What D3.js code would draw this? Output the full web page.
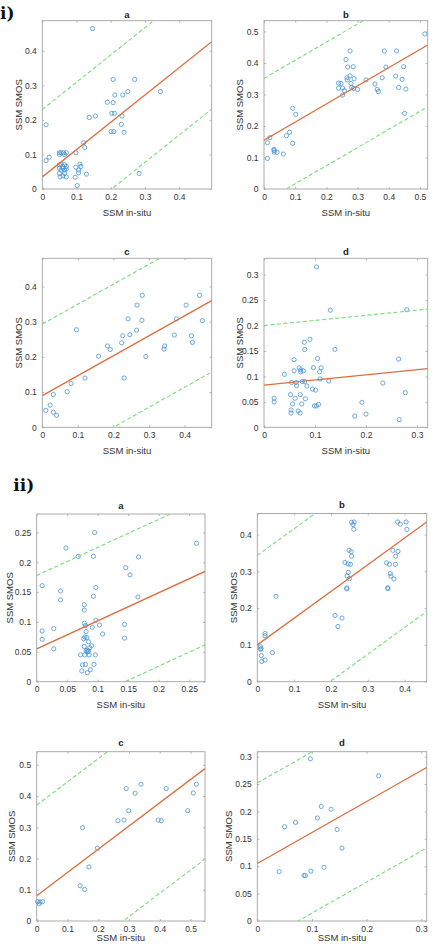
<!DOCTYPE html>
<html>
<head>
<meta charset="utf-8">
<script src="https://cdn.jsdelivr.net/npm/d3@7"></script>
<style>
 body { margin: 0; background: #fff; }
 svg { display: block; }
</style>
</head>
<body>
<div id="chart"></div>
<script>
// ---- data: [SSM in-situ, SSM SMOS] ----
const iA = [[0.147,0.464],[0.011,0.186],[0.011,0.082],[0.02,0.092],[0.05,0.105],[0.055,0.105],[0.062,0.105],[0.07,0.105],[0.065,0.1],[0.05,0.1],[0.05,0.07],[0.055,0.072],[0.06,0.065],[0.065,0.07],[0.07,0.065],[0.05,0.06],[0.055,0.055],[0.065,0.055],[0.07,0.058],[0.05,0.045],[0.065,0.045],[0.052,0.035],[0.06,0.038],[0.07,0.035],[0.06,0.06],[0.098,0.105],[0.098,0.063],[0.11,0.072],[0.113,0.065],[0.106,0.047],[0.106,0.055],[0.096,0.034],[0.102,0.01],[0.129,0.043],[0.121,0.134],[0.124,0.12],[0.137,0.207],[0.155,0.211],[0.19,0.251],[0.207,0.317],[0.212,0.272],[0.207,0.25],[0.203,0.219],[0.211,0.219],[0.201,0.166],[0.209,0.166],[0.235,0.272],[0.25,0.282],[0.27,0.317],[0.233,0.211],[0.231,0.187],[0.239,0.164],[0.283,0.045],[0.345,0.282]];
const iB = [[0.011,0.097],[0.011,0.147],[0.019,0.163],[0.032,0.126],[0.032,0.122],[0.033,0.117],[0.042,0.116],[0.062,0.111],[0.072,0.169],[0.082,0.18],[0.092,0.256],[0.092,0.145],[0.102,0.237],[0.239,0.336],[0.239,0.32],[0.247,0.335],[0.252,0.32],[0.252,0.298],[0.258,0.312],[0.263,0.411],[0.268,0.387],[0.267,0.346],[0.266,0.353],[0.276,0.438],[0.276,0.359],[0.279,0.335],[0.281,0.322],[0.286,0.388],[0.289,0.35],[0.287,0.319],[0.3,0.316],[0.327,0.346],[0.356,0.333],[0.363,0.316],[0.367,0.309],[0.379,0.353],[0.386,0.438],[0.391,0.387],[0.425,0.438],[0.422,0.358],[0.432,0.322],[0.443,0.348],[0.448,0.388],[0.455,0.317],[0.451,0.24],[0.516,0.492]];
const iC = [[0.01,0.048],[0.022,0.063],[0.031,0.093],[0.031,0.043],[0.04,0.034],[0.07,0.101],[0.081,0.124],[0.096,0.277],[0.12,0.14],[0.158,0.202],[0.183,0.231],[0.191,0.221],[0.223,0.24],[0.226,0.26],[0.23,0.14],[0.241,0.308],[0.246,0.263],[0.265,0.276],[0.266,0.347],[0.28,0.304],[0.281,0.375],[0.291,0.201],[0.342,0.222],[0.344,0.231],[0.371,0.262],[0.377,0.308],[0.404,0.347],[0.419,0.26],[0.422,0.241],[0.442,0.375],[0.45,0.303]];
const iD = [[0.02,0.057],[0.02,0.05],[0.04,0.104],[0.052,0.064],[0.053,0.034],[0.053,0.028],[0.054,0.088],[0.059,0.133],[0.059,0.111],[0.056,0.046],[0.061,0.057],[0.063,0.088],[0.064,0.082],[0.067,0.032],[0.069,0.117],[0.071,0.064],[0.071,0.028],[0.072,0.113],[0.072,0.109],[0.074,0.046],[0.075,0.09],[0.077,0.111],[0.079,0.167],[0.08,0.153],[0.08,0.09],[0.081,0.056],[0.084,0.081],[0.09,0.173],[0.095,0.075],[0.097,0.117],[0.099,0.042],[0.101,0.073],[0.103,0.315],[0.105,0.135],[0.103,0.042],[0.107,0.045],[0.109,0.109],[0.112,0.117],[0.11,0.095],[0.127,0.091],[0.13,0.23],[0.139,0.153],[0.178,0.022],[0.192,0.049],[0.2,0.026],[0.233,0.087],[0.264,0.134],[0.265,0.015],[0.277,0.068],[0.28,0.231]];
const iiA = [[0.009,0.161],[0.009,0.085],[0.009,0.071],[0.028,0.089],[0.028,0.055],[0.039,0.152],[0.039,0.137],[0.048,0.224],[0.068,0.21],[0.072,0.045],[0.074,0.018],[0.075,0.028],[0.077,0.072],[0.078,0.129],[0.078,0.12],[0.078,0.098],[0.078,0.059],[0.079,0.045],[0.079,0.075],[0.08,0.029],[0.08,0.094],[0.081,0.052],[0.081,0.084],[0.082,0.074],[0.083,0.053],[0.083,0.05],[0.083,0.015],[0.085,0.067],[0.085,0.051],[0.086,0.045],[0.087,0.057],[0.088,0.02],[0.09,0.06],[0.091,0.091],[0.093,0.143],[0.093,0.21],[0.094,0.029],[0.095,0.25],[0.096,0.045],[0.097,0.103],[0.097,0.158],[0.103,0.095],[0.108,0.08],[0.144,0.073],[0.144,0.096],[0.146,0.191],[0.153,0.179],[0.166,0.142],[0.167,0.209],[0.262,0.232]];
const iiB = [[0.009,0.095],[0.01,0.09],[0.009,0.088],[0.011,0.071],[0.012,0.055],[0.021,0.059],[0.021,0.131],[0.021,0.125],[0.041,0.079],[0.051,0.232],[0.211,0.18],[0.219,0.15],[0.23,0.173],[0.238,0.324],[0.243,0.255],[0.243,0.252],[0.244,0.287],[0.247,0.32],[0.247,0.297],[0.249,0.357],[0.25,0.28],[0.253,0.319],[0.255,0.353],[0.256,0.341],[0.256,0.433],[0.26,0.427],[0.262,0.414],[0.263,0.434],[0.351,0.323],[0.354,0.255],[0.355,0.253],[0.359,0.319],[0.361,0.294],[0.363,0.287],[0.368,0.357],[0.371,0.279],[0.375,0.319],[0.376,0.341],[0.382,0.354],[0.381,0.434],[0.388,0.428],[0.404,0.434],[0.406,0.414]];
const iiC = [[0.003,0.062],[0.008,0.055],[0.011,0.061],[0.019,0.062],[0.141,0.113],[0.149,0.299],[0.156,0.101],[0.17,0.173],[0.197,0.233],[0.264,0.321],[0.284,0.323],[0.291,0.424],[0.299,0.353],[0.32,0.409],[0.339,0.438],[0.395,0.323],[0.405,0.321],[0.421,0.424],[0.491,0.353],[0.509,0.41],[0.519,0.438]];
const iiD = [[0.04,0.09],[0.05,0.172],[0.07,0.18],[0.0855,0.083],[0.088,0.083],[0.097,0.296],[0.098,0.091],[0.11,0.188],[0.117,0.209],[0.122,0.098],[0.135,0.204],[0.146,0.167],[0.155,0.133],[0.222,0.265]];

const panelPoints = [iA, iB, iC, iD, iiA, iiB, iiC, iiD];
const panelTitles = ["a", "b", "c", "d", "a", "b", "c", "d"];

// regression line and +/- band, per panel
const fitIntercept = [0.035, 0.155, 0.09, 0.083, 0.055, 0.1, 0.081, 0.105];
const fitSlope = [0.79, 0.575, 0.567, 0.1, 0.47, 0.726, 0.744, 0.565];
const bandWidth = [0.195, 0.196, 0.203, 0.117, 0.123, 0.243, 0.29, 0.147];

// axis limits and ticks
const xMax = [0.495, 0.525, 0.476, 0.321, 0.276, 0.46, 0.547, 0.31];
const yMax = [0.487, 0.534, 0.48, 0.332, 0.281, 0.457, 0.542, 0.309];
const xTicks = [
 [0, 0.1, 0.2, 0.3, 0.4],
 [0, 0.1, 0.2, 0.3, 0.4, 0.5],
 [0, 0.1, 0.2, 0.3, 0.4],
 [0, 0.1, 0.2, 0.3],
 [0, 0.05, 0.1, 0.15, 0.2, 0.25],
 [0, 0.1, 0.2, 0.3, 0.4],
 [0, 0.1, 0.2, 0.3, 0.4, 0.5],
 [0, 0.1, 0.2, 0.3]
];
const yTicks = [
 [0, 0.1, 0.2, 0.3, 0.4],
 [0, 0.1, 0.2, 0.3, 0.4, 0.5],
 [0, 0.1, 0.2, 0.3, 0.4],
 [0, 0.05, 0.1, 0.15, 0.2, 0.25, 0.3],
 [0, 0.05, 0.1, 0.15, 0.2, 0.25],
 [0, 0.1, 0.2, 0.3, 0.4],
 [0, 0.1, 0.2, 0.3, 0.4, 0.5],
 [0, 0.05, 0.1, 0.15, 0.2, 0.25, 0.3]
];

// ---- layout ----
const boxes = [
 [42.3, 20.7, 211.7, 189],
 [264, 20.7, 427.7, 189],
 [42.3, 258.3, 211.7, 427.3],
 [264, 258.3, 427.7, 427.3],
 [36.7, 514, 205, 681.7],
 [257.3, 513.5, 426.7, 681.7],
 [36.7, 751.7, 205, 921],
 [257.3, 751.7, 426.7, 921]
];
const yLabelGap = [24, 24.7, 24, 24.3, 27.4, 23.3, 25, 29];
const titleGap = [3, 3, 3, 3, 5.5, 5.5, 5.5, 5.5];

const font = "'Liberation Sans', Arial, sans-serif";
const axisColor = "#a3a3a3";
const textColor = "#333";
const fmt = d3.format("~g");

const svg = d3
 .select("#chart")
 .append("svg")
 .attr("width", 435)
 .attr("height", 944)
 .attr("viewBox", "0 0 435 944");

const styleAxis = (sel) => {
 sel.select(".domain").remove();
 sel.selectAll(".tick line").attr("stroke", axisColor).attr("stroke-width", 0.8);
 sel.selectAll(".tick text").attr("fill", textColor);
 sel.attr("font-family", font).attr("font-size", 8.5);
};

const drawPanel = (i) => {
 const [l, t, r, b] = boxes[i];
 const x = d3.scaleLinear().domain([0, xMax[i]]).range([l, r]);
 const y = d3.scaleLinear().domain([0, yMax[i]]).range([b, t]);
 const g = svg.append("g");

 svg.append("clipPath").attr("id", `clip${i}`)
  .append("rect").attr("x", l).attr("y", t).attr("width", r - l).attr("height", b - t);

 // axes with inward ticks on all four sides
 g.append("g").attr("transform", `translate(0,${b})`)
  .call(d3.axisBottom(x).tickValues(xTicks[i]).tickFormat(fmt).tickSizeInner(-2).tickSizeOuter(0).tickPadding(4.5))
  .call(styleAxis);
 g.append("g").attr("transform", `translate(${l},0)`)
  .call(d3.axisLeft(y).tickValues(yTicks[i]).tickFormat(fmt).tickSizeInner(-2).tickSizeOuter(0).tickPadding(5.5))
  .call(styleAxis);
 g.append("g").attr("transform", `translate(0,${t})`)
  .call(d3.axisTop(x).tickValues(xTicks[i]).tickFormat("").tickSizeInner(-2).tickSizeOuter(0))
  .call(styleAxis);
 g.append("g").attr("transform", `translate(${r},0)`)
  .call(d3.axisRight(y).tickValues(yTicks[i]).tickFormat("").tickSizeInner(-2).tickSizeOuter(0))
  .call(styleAxis);

 g.append("rect")
  .attr("x", l).attr("y", t).attr("width", r - l).attr("height", b - t)
  .attr("fill", "none").attr("stroke", axisColor).attr("stroke-width", 0.9);

 // scatter
 g.append("g")
  .selectAll("circle")
  .data(panelPoints[i])
  .enter()
  .append("circle")
  .attr("cx", (d) => x(d[0]))
  .attr("cy", (d) => y(d[1]))
  .attr("r", 2.1)
  .attr("fill", "none")
  .attr("stroke", "#3f8ed2")
  .attr("stroke-width", 0.75);

 // fit and band lines
 const lineFor = (off) => d3.line()
  .x((d) => x(d))
  .y((d) => y(fitIntercept[i] + fitSlope[i] * d + off));
 const lines = g.append("g").attr("clip-path", `url(#clip${i})`);
 [bandWidth[i], -bandWidth[i]].forEach((off) => {
  lines.append("path")
   .attr("d", lineFor(off)([0, xMax[i]]))
   .attr("fill", "none")
   .attr("stroke", "#74de74")
   .attr("stroke-width", 1.1)
   .attr("stroke-dasharray", "4,2.5");
 });
 lines.append("path")
  .attr("d", lineFor(0)([0, xMax[i]]))
  .attr("fill", "none")
  .attr("stroke", "#dd6d3e")
  .attr("stroke-width", 1.3);

 // labels (bottom row is kept just inside the page)
 g.append("text")
  .attr("x", (l + r) / 2).attr("y", t - titleGap[i])
  .attr("text-anchor", "middle")
  .attr("font-family", font).attr("font-size", 9.5).attr("font-weight", "bold")
  .attr("fill", "#222")
  .text(panelTitles[i]);
 g.append("text")
  .attr("x", (l + r) / 2).attr("y", Math.min(b + 26.5, 941))
  .attr("text-anchor", "middle")
  .attr("font-family", font).attr("font-size", 9.5)
  .attr("fill", textColor)
  .text("SSM in-situ");
 g.append("text")
  .attr("transform", `translate(${l - yLabelGap[i]},${(t + b) / 2}) rotate(-90)`)
  .attr("dy", "0.35em")
  .attr("text-anchor", "middle")
  .attr("font-family", font).attr("font-size", 9.5)
  .attr("fill", textColor)
  .text("SSM SMOS");
};

panelPoints.forEach((d, i) => drawPanel(i));

// group labels
svg.append("text")
 .attr("x", 0).attr("y", 18.5)
 .attr("font-family", "'DejaVu Serif', serif").attr("font-weight", "bold").attr("font-size", 17)
 .attr("fill", "#111")
 .text("i)");
svg.append("text")
 .attr("x", 13.3).attr("y", 491)
 .attr("font-family", "'DejaVu Serif', serif").attr("font-weight", "bold").attr("font-size", 17)
 .attr("textLength", 21).attr("lengthAdjust", "spacingAndGlyphs")
 .attr("fill", "#111")
 .text("ii)");
</script>
</body>
</html>
